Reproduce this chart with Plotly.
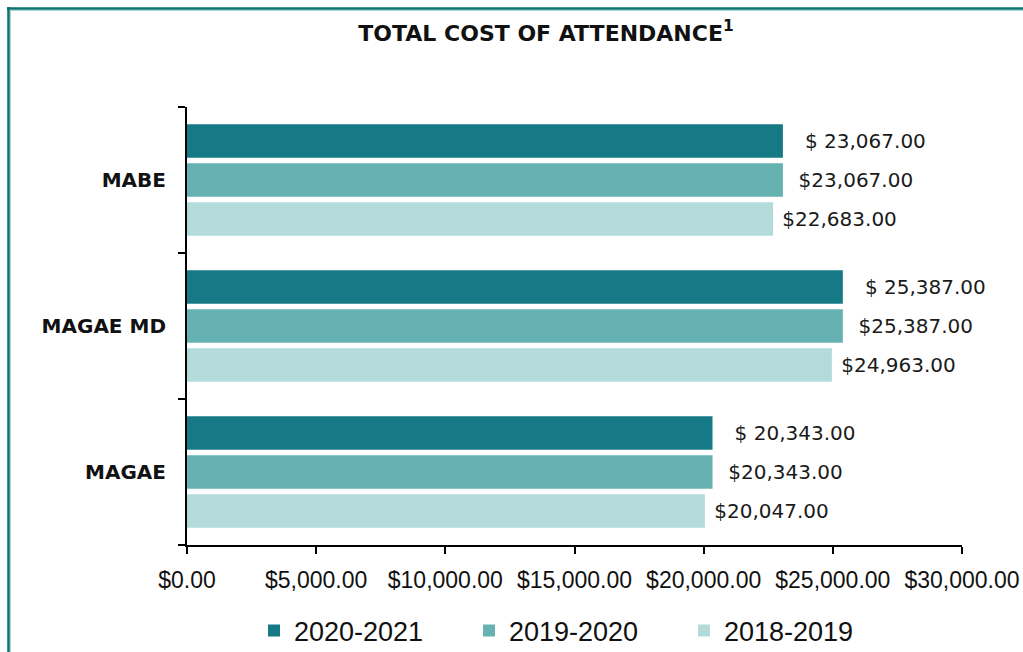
import plotly.graph_objects as go

# categories bottom-to-top as drawn
categories = ["MAGAE", "MAGAE MD", "MABE"]
years = ["2018-2019", "2019-2020", "2020-2021"]
cost_2018_2019 = [20047, 24963, 22683]
cost_2019_2020 = [20343, 25387, 23067]
cost_2020_2021 = [20343, 25387, 23067]
x_ticks = [0, 5000, 10000, 15000, 20000, 25000, 30000]

colors = {"2018-2019": "#B3DBDA", "2019-2020": "#66B2B2", "2020-2021": "#167A86"}
values = {"2018-2019": cost_2018_2019, "2019-2020": cost_2019_2020, "2020-2021": cost_2020_2021}
# the 2020-2021 labels have a space after the dollar sign
label_fmt = {
    "2018-2019": "\u00a0%{x:$,.2f}",
    "2019-2020": "\u00a0\u00a0%{x:$,.2f}",
    "2020-2021": "\u00a0\u00a0\u00a0$ %{x:,.2f}",
}

fig = go.Figure()
for yr in years:
    fig.add_trace(go.Bar(
        y=categories, x=values[yr], name=yr, orientation="h",
        marker=dict(color=colors[yr], line=dict(width=0)),
        texttemplate=label_fmt[yr], textposition="outside", cliponaxis=False,
        textfont=dict(family="DejaVu Sans", size=20, color="#1a1a1a"),
        hoverinfo="skip",
    ))

FW, FH = 1023, 652
L, T = 187, 107
R, B = FW - 962, FH - 545
W, H = FW - L - R, FH - T - B

def px_x(p):
    return (p - L) / W

def px_y(p):
    return (FH - B - p) / H

fig.update_layout(
    width=FW, height=FH,
    margin=dict(l=L, r=R, t=T, b=B, autoexpand=False),
    paper_bgcolor="white", plot_bgcolor="white",
    barmode="group", bargap=0.2, bargroupgap=0.14,
    title=dict(text="<b>TOTAL COST OF ATTENDANCE<sup>1</sup></b>",
               x=546 / FW, xanchor="center", xref="container",
               y=1 - 33 / FH, yanchor="middle", yref="container",
               font=dict(family="DejaVu Sans", size=22, color="#111111")),
    xaxis=dict(range=[0, 30000], tickvals=x_ticks, tickformat="$,.2f",
               showgrid=False, zeroline=False, automargin=False,
               showline=True, linecolor="black", linewidth=2,
               ticks="outside", ticklen=7, tickcolor="black", tickwidth=2,
               ticklabelstandoff=6,
               tickfont=dict(family="Liberation Sans", size=23, color="#111111")),
    yaxis=dict(categoryorder="array", categoryarray=categories,
               showgrid=False, zeroline=False, automargin=False,
               showline=True, linecolor="black", linewidth=2,
               ticks="outside", ticklen=7, tickcolor="black", tickwidth=2,
               tickson="boundaries", ticklabelstandoff=15,
               tickfont=dict(family="DejaVu Sans", size=20, color="#111111", weight="bold")),
    legend=dict(orientation="h", traceorder="reversed",
                x=px_x(254), xanchor="left", y=px_y(631), yanchor="middle",
                entrywidth=170, entrywidthmode="pixels",
                font=dict(family="Liberation Sans", size=27, color="#111111")),
    shapes=[
        dict(type="line", xref="paper", yref="paper",
             x0=px_x(7), x1=px_x(1023), y0=px_y(8.5), y1=px_y(8.5),
             line=dict(color="#0A7070", width=2.5)),
        dict(type="line", xref="paper", yref="paper",
             x0=px_x(8.5), x1=px_x(8.5), y0=px_y(7), y1=px_y(652),
             line=dict(color="#0A7070", width=2.5)),
        dict(type="line", xref="paper", yref="paper",
             x0=px_x(10), x1=px_x(1023), y0=px_y(10.5), y1=px_y(10.5),
             line=dict(color="#A8D6D6", width=1)),
        dict(type="line", xref="paper", yref="paper",
             x0=px_x(10.5), x1=px_x(10.5), y0=px_y(10), y1=px_y(652),
             line=dict(color="#A8D6D6", width=1)),
    ],
)

# drop the browser's default 8px body margin so the 1023x652 figure fills the window
fig.write_html("out.html", config={"displayModeBar": False},
               post_script="document.body.style.margin = '0';")
